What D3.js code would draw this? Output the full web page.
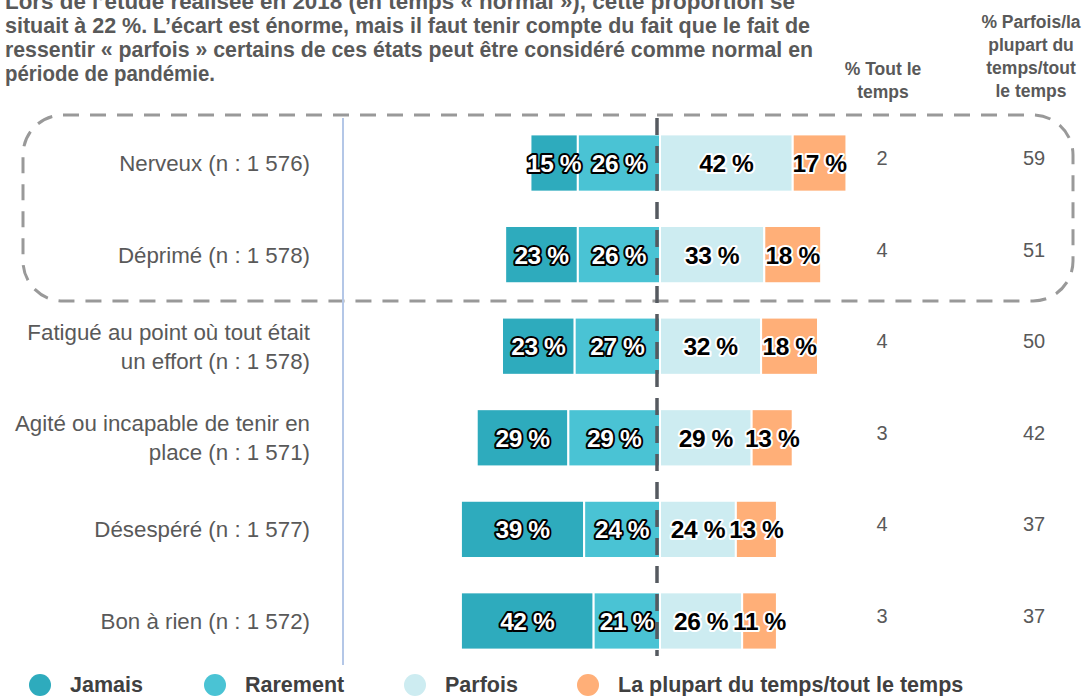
<!DOCTYPE html>
<html lang="fr">
<head>
<meta charset="UTF-8">
<title>États ressentis</title>
<script src="https://cdn.jsdelivr.net/npm/d3@7"></script>
<style>
  body { margin: 0; background: #fff; }
  svg { display: block; font-family: "Liberation Sans", Arial, sans-serif; }
</style>
</head>
<body>
<div id="chart"></div>
<script>
// données
const categories = ["Nerveux (n : 1 576)", "Déprimé (n : 1 578)", "Fatigué au point où tout était|un effort (n : 1 578)",
  "Agité ou incapable de tenir en|place (n : 1 571)", "Désespéré (n : 1 577)", "Bon à rien (n : 1 572)"];
const jamais   = [15, 23, 23, 29, 39, 42];
const rarement = [26, 26, 27, 29, 24, 21];
const parfois  = [42, 33, 32, 29, 24, 26];
const plupart  = [17, 18, 18, 13, 13, 11];
const toutLeTemps = [2, 4, 4, 3, 4, 3];
const parfoisPlus = [59, 51, 50, 42, 37, 37];
const seriesNames = ["Jamais", "Rarement", "Parfois", "La plupart du temps/tout le temps"];
const colors = ["#2eabbd", "#4ac3d4", "#cdecf1", "#ffaf78"];
const introLines = [
  "Lors de l’étude réalisée en 2018  (en temps « normal »), cette proportion se",
  "situait à 22 %. L’écart est énorme, mais il faut tenir compte du fait que le fait de",
  "ressentir « parfois » certains de ces états peut être considéré comme normal en",
  "période de pandémie."
];

const width = 1089, height = 696;
const svg = d3.select("#chart").append("svg").attr("width", width).attr("height", height);

// échelles
const x = d3.scaleLinear().domain([-100, 100]).range([660 - 316, 660 + 316]);
const y = d3.scaleBand().domain(d3.range(categories.length)).range([117, 667]).paddingInner(0.375).paddingOuter(0.19);

// texte d'intro
svg.append("g").selectAll("text").data(introLines).join("text")
  .attr("x", 5).attr("y", (d, i) => 9 + i * 24)
  .attr("font-size", 21.5).attr("font-weight", "bold").attr("fill", "#595959")
  .attr("textLength", (d, i) => [790, 805, 808, 210][i]).attr("lengthAdjust", "spacingAndGlyphs")
  .text(d => d);

// en-têtes des colonnes
const headers = [
  { x: 883, lines: ["% Tout le", "temps"], y0: 75 },
  { x: 1031, lines: ["% Parfois/la", "plupart du", "temps/tout", "le temps"], y0: 28 }
];
headers.forEach(h => {
  svg.append("text").attr("text-anchor", "middle").attr("font-size", 17.5).attr("font-weight", "bold").attr("fill", "#595959")
    .selectAll("tspan").data(h.lines).join("tspan")
    .attr("x", h.x).attr("y", (d, i) => h.y0 + i * 23).text(d => d);
});

// cadre pointillé
svg.append("rect").attr("x", 23).attr("y", 115).attr("width", 1050).attr("height", 186)
  .attr("rx", 40).attr("ry", 40).attr("fill", "none").attr("stroke", "#999").attr("stroke-width", 3)
  .attr("stroke-dasharray", "16,11");

// axe vertical
svg.append("line").attr("x1", 343).attr("x2", 343).attr("y1", 118).attr("y2", 665)
  .attr("stroke", "#b4c7e7").attr("stroke-width", 2);

// barres
const rows = categories.map((c, i) => {
  const vals = [jamais[i], rarement[i], parfois[i], plupart[i]];
  let left = -(vals[0] + vals[1]);
  return vals.map((v, k) => { const s = { row: i, k, v, x0: left, x1: left + v }; left += v; return s; });
}).flat();

const bar = svg.append("g");
bar.selectAll("rect").data(rows).join("rect")
  .attr("x", d => x(d.x0)).attr("width", d => x(d.x1) - x(d.x0))
  .attr("y", d => y(d.row)).attr("height", y.bandwidth())
  .attr("fill", d => colors[d.k]).attr("stroke", "#fff").attr("stroke-width", 2);

bar.selectAll("text").data(rows).join("text")
  .attr("x", d => (x(d.x0) + x(d.x1)) / 2).attr("y", d => y(d.row) + y.bandwidth() / 2 + 9)
  .attr("text-anchor", "middle").attr("font-size", 24.5).attr("font-weight", "bold")
  .attr("letter-spacing", -0.4)
  .attr("fill", d => d.k < 2 ? "#fff" : "#000")
  .attr("stroke", d => d.k < 2 ? "#000" : "#fff").attr("stroke-width", 4).attr("paint-order", "stroke")
  .attr("stroke-linejoin", "round")
  .text(d => d.v + " %");

// ligne centrale pointillée
svg.append("line").attr("x1", 657).attr("x2", 657).attr("y1", 118).attr("y2", 656)
  .attr("stroke", "#555a60").attr("stroke-width", 3.5).attr("stroke-dasharray", "17,11");

// étiquettes des catégories
svg.append("g").selectAll("text").data(categories).join("text")
  .attr("text-anchor", "end").attr("font-size", 22.3).attr("fill", "#595959")
  .each(function (d, i) {
    const parts = d.split("|");
    const cy = y(i) + y.bandwidth() / 2;
    d3.select(this).selectAll("tspan").data(parts).join("tspan")
      .attr("x", 310).attr("y", (p, j) => cy + 8 + (j - (parts.length - 1) / 2) * 29).text(p => p);
  });

// colonnes de droite
svg.append("g").selectAll("text").data(toutLeTemps).join("text")
  .attr("x", 882).attr("y", (d, i) => y(i) + y.bandwidth() / 2 + 2).attr("text-anchor", "middle")
  .attr("font-size", 20).attr("fill", "#595959").text(d => d);
svg.append("g").selectAll("text").data(parfoisPlus).join("text")
  .attr("x", 1034).attr("y", (d, i) => y(i) + y.bandwidth() / 2 + 2).attr("text-anchor", "middle")
  .attr("font-size", 20).attr("fill", "#595959").text(d => d);

// légende
const legendX = [40, 215, 415, 588];
const lg = svg.append("g").selectAll("g").data(seriesNames).join("g")
  .attr("transform", (d, i) => `translate(${legendX[i]},685)`);
lg.append("circle").attr("r", 11).attr("fill", (d, i) => colors[i]);
lg.append("text").attr("x", 30).attr("y", 7).attr("font-size", 21.5).attr("font-weight", "bold")
  .attr("fill", "#404040").text(d => d);
</script>
</body>
</html>
